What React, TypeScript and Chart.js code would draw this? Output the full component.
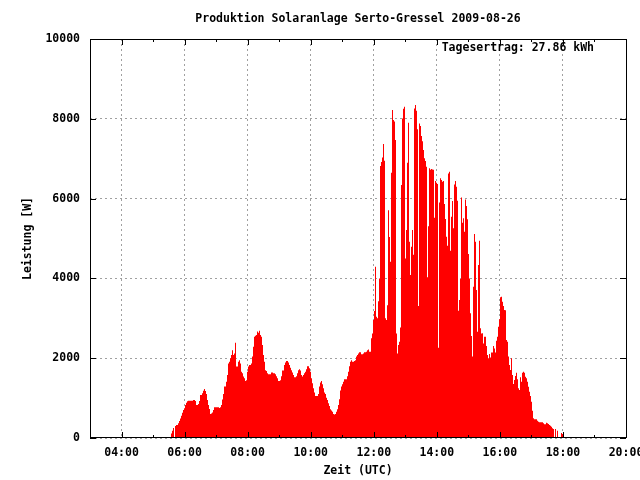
import React, { useEffect, useRef } from 'react';
import { Chart, registerables } from 'chart.js';

Chart.register(...registerables);

// ---- text ----
const TITLE = 'Produktion Solaranlage Serto-Gressel 2009-08-26';
const X_AXIS_TITLE = 'Zeit (UTC)';
const Y_AXIS_TITLE = 'Leistung [W]';
const DAILY_YIELD_LABEL = 'Tagesertrag: 27.86 kWh';

// ---- axes ----
const X_MIN_HOUR = 3;
const X_MAX_HOUR = 20;
const X_TICK_HOURS = [4, 6, 8, 10, 12, 14, 16, 18, 20];
const X_TICK_LABELS = ['04:00', '06:00', '08:00', '10:00', '12:00', '14:00', '16:00', '18:00', '20:00'];
const X_MINOR_TICK_HOURS = [5, 7, 9, 11, 13, 15, 17, 19];
const Y_MIN = 0;
const Y_MAX = 10000;
const Y_TICK_VALUES = [0, 2000, 4000, 6000, 8000, 10000];
const Y_TICK_LABELS = ['0', '2000', '4000', '6000', '8000', '10000'];

// ---- samples: one reading every ~1.9 minutes from 05:30 UTC ----
const SAMPLE_START_MINUTE = 330.33;
const SAMPLE_STEP_MINUTES = 1.903;

// power in W
const POWER_0530_0700 = [
  50, 0, 0, 115, 180, 250, 0, 300, 325, 325, 370, 425, 490, 560, 635, 700, 745, 825, 885, 920,
  935, 935, 935, 935, 935, 950, 950, 925, 825, 825, 850, 925, 1080, 1080, 1120, 1185, 1230, 1180, 1100, 950,
  825, 725, 600, 615, 640, 700, 770, 770, 770, 770, 770, 750, 770, 825, 965, 1100,
];
const POWER_0700_0900 = [
  1290, 1290, 1410, 1580, 1870, 1910, 2000, 2080, 2200, 2080, 2120, 2390, 1790, 1790, 1910, 1950, 1870, 1660, 1620, 1540,
  1500, 1430, 1450, 1660, 1790, 1830, 1830, 1870, 2040, 2290, 2540, 2560, 2580, 2670, 2640, 2690, 2580, 2540, 2330, 2080,
  1910, 1700, 1680, 1620, 1600, 1600, 1600, 1640, 1640, 1620, 1620, 1600, 1550, 1500, 1430, 1430, 1450, 1550, 1690, 1690,
];
const POWER_0900_1100 = [
  1830, 1890, 1930, 1930, 1890, 1830, 1760, 1700, 1640, 1580, 1520, 1520, 1550, 1620, 1700, 1720, 1690, 1580, 1540, 1580,
  1620, 1660, 1720, 1800, 1800, 1750, 1660, 1500, 1370, 1250, 1140, 1050, 1050, 1050, 1100, 1290, 1390, 1430, 1350, 1250,
  1140, 1100, 1010, 950, 870, 800, 720, 690, 660, 600, 590, 600, 660, 720, 830, 970, 1190, 1290, 1350, 1410,
];
const POWER_1100_1300 = [
  1470, 1470, 1470, 1550, 1660, 1800, 1910, 1950, 1910, 1910, 1930, 1950, 2040, 2080, 2120, 2150, 2150, 2100, 2100, 2120,
  2150, 2150, 2160, 2200, 2220, 2160, 2160, 2500, 2620, 2960, 3180, 4290, 3040, 3000, 3430, 4000, 6820, 6920, 7030, 7370,
  6950, 3000, 2960, 3330, 5710, 5040, 4420, 6650, 8220, 7970, 7930, 7470, 2620, 2120, 2330, 2410, 2770, 6340, 8010, 8250,
];
const POWER_1300_1500 = [
  8300, 4500, 5210, 6900, 7900, 4920, 4085, 4795, 5210, 4590, 8260, 8345, 8200, 7735, 3310, 7885, 7820, 7570, 7440, 7220,
  7010, 6940, 6800, 4030, 5310, 6760, 6720, 6740, 6730, 6720, 5520, 6440, 6400, 6365, 2260, 5900, 6510, 6465, 6425, 6440,
  5865, 5490, 5045, 4820, 6630, 6675, 4695, 5545, 5940, 5255, 6355, 6440, 6300, 5945, 3190, 3460, 3985, 6030, 5395, 5505,
];
const POWER_1500_1700 = [
  5170, 5980, 5815, 5480, 4610, 4000, 3125, 2555, 2040, 3790, 5110, 4920, 3710, 2665, 4335, 4945, 2750, 2620, 2625, 2370,
  2540, 2540, 2305, 2080, 2000, 2105, 2015, 2140, 2140, 2305, 2245, 2140, 2440, 2540, 2790, 2975, 3525, 3540, 3415, 3310,
  3210, 3200, 2455, 2415, 2040, 1830, 1705, 2000, 1580, 1355, 1455, 1555, 1635, 1470, 1245, 1205, 1520, 1410, 1635, 1660,
];
const POWER_1700_1800 = [
  1637, 1537, 1495, 1412, 1287, 1161, 1053, 910, 685, 493, 468, 468, 468, 434, 409, 393, 393, 393, 393, 368,
  343, 343, 384, 370, 350, 326, 309, 284, 242, 226, 0, 226, 0, 184, 0, 0, 0, 125, 100, 0,
];

const POWER_W = [
  ...POWER_0530_0700,
  ...POWER_0700_0900,
  ...POWER_0900_1100,
  ...POWER_1100_1300,
  ...POWER_1300_1500,
  ...POWER_1500_1700,
  ...POWER_1700_1800,
];

const SAMPLE_HOURS = POWER_W.map((_, i) => (SAMPLE_START_MINUTE + i * SAMPLE_STEP_MINUTES) / 60);

const FONT_FAMILY = "'DejaVu Sans Mono', 'Liberation Mono', monospace";
const FONT = { family: FONT_FAMILY, size: 11.5, weight: 'bold' as const };
const GRID_COLOR = '#a0a0a0';
const BAR_COLOR = '#ff0000';

const gnuplotFrame = {
  id: 'gnuplotFrame',
  afterDatasetsDraw(chart: any) {
    const { ctx, chartArea: a, scales } = chart;
    const xs = scales.x;
    const ys = scales.y;
    ctx.save();
    ctx.strokeStyle = '#000000';
    ctx.lineWidth = 1;
    ctx.setLineDash([]);
    ctx.strokeRect(a.left + 0.5, a.top + 0.5, a.right - a.left, a.bottom - a.top - 1);
    ctx.beginPath();
    const xTick = (v: number, len: number) => {
      const px = Math.round(xs.getPixelForValue(v)) + 0.5;
      ctx.moveTo(px, a.bottom);
      ctx.lineTo(px, a.bottom - len);
      ctx.moveTo(px, a.top);
      ctx.lineTo(px, a.top + len);
    };
    X_TICK_HOURS.forEach((v) => xTick(v, 6));
    X_MINOR_TICK_HOURS.forEach((v) => xTick(v, 3));
    Y_TICK_VALUES.forEach((v) => {
      const py = Math.round(ys.getPixelForValue(v)) + 0.5;
      ctx.moveTo(a.left, py);
      ctx.lineTo(a.left + 6, py);
      ctx.moveTo(a.right, py);
      ctx.lineTo(a.right - 6, py);
    });
    ctx.stroke();
    ctx.fillStyle = '#000000';
    ctx.font = `bold ${FONT.size}px ${FONT_FAMILY}`;
    ctx.textAlign = 'right';
    ctx.textBaseline = 'middle';
    ctx.fillText(DAILY_YIELD_LABEL, a.right - 32, a.top + 9);
    ctx.restore();
  },
};

export default function App() {
  const canvasRef = useRef<HTMLCanvasElement | null>(null);

  useEffect(() => {
    const canvas = canvasRef.current;
    if (!canvas) return;
    const chart = new Chart(canvas, {
      type: 'line',
      data: {
        datasets: [
          {
            label: 'Leistung',
            data: SAMPLE_HOURS.map((h, i) => ({ x: h, y: POWER_W[i] })),
            stepped: 'after',
            fill: 'origin',
            backgroundColor: BAR_COLOR,
            borderColor: 'rgba(0,0,0,0)',
            borderWidth: 0,
            pointRadius: 0,
            tension: 0,
          },
        ],
      },
      options: {
        responsive: false,
        animation: false,
        events: [],
        layout: { padding: { left: 0, right: 14, top: 0, bottom: 0 } },
        plugins: {
          legend: { display: false },
          tooltip: { enabled: false },
          title: {
            display: true,
            text: TITLE,
            fullSize: false,
            color: '#000000',
            font: FONT,
            padding: { top: 12, bottom: 13.2 },
          },
        },
        scales: {
          x: {
            type: 'linear',
            min: X_MIN_HOUR,
            max: X_MAX_HOUR,
            afterBuildTicks: (scale: any) => {
              scale.ticks = X_TICK_HOURS.map((value) => ({ value }));
            },
            afterFit: (scale: any) => {
              scale.height = 42;
              scale.paddingLeft = 0;
              scale.paddingRight = 0;
            },
            ticks: {
              autoSkip: false,
              maxRotation: 0,
              minRotation: 0,
              padding: 8,
              color: '#000000',
              font: FONT,
              callback: (value: any) => X_TICK_LABELS[X_TICK_HOURS.indexOf(Number(value))],
            },
            grid: { color: GRID_COLOR, lineWidth: 1, drawTicks: false },
            border: { display: false, dash: [2, 3] },
            title: {
              display: true,
              text: X_AXIS_TITLE,
              color: '#000000',
              font: FONT,
              padding: { top: 0, bottom: 2 },
            },
          },
          y: {
            type: 'linear',
            min: Y_MIN,
            max: Y_MAX,
            afterBuildTicks: (scale: any) => {
              scale.ticks = Y_TICK_VALUES.map((value) => ({ value }));
            },
            afterFit: (scale: any) => {
              scale.width = 90;
              scale.paddingTop = 0;
              scale.paddingBottom = 0;
            },
            ticks: {
              padding: 10,
              color: '#000000',
              font: FONT,
              callback: (value: any) => Y_TICK_LABELS[Y_TICK_VALUES.indexOf(Number(value))],
            },
            grid: { color: GRID_COLOR, lineWidth: 1, drawTicks: false },
            border: { display: false, dash: [2, 3] },
            title: {
              display: true,
              text: Y_AXIS_TITLE,
              color: '#000000',
              font: FONT,
              padding: { top: 21, bottom: 0 },
            },
          },
        },
      },
      plugins: [gnuplotFrame],
    } as any);
    return () => chart.destroy();
  }, []);

  return (
    <div style={{ position: 'absolute', left: 0, top: 0, width: 640, height: 480, background: '#ffffff' }}>
      <canvas ref={canvasRef} width={640} height={480} style={{ display: 'block' }} />
    </div>
  );
}
